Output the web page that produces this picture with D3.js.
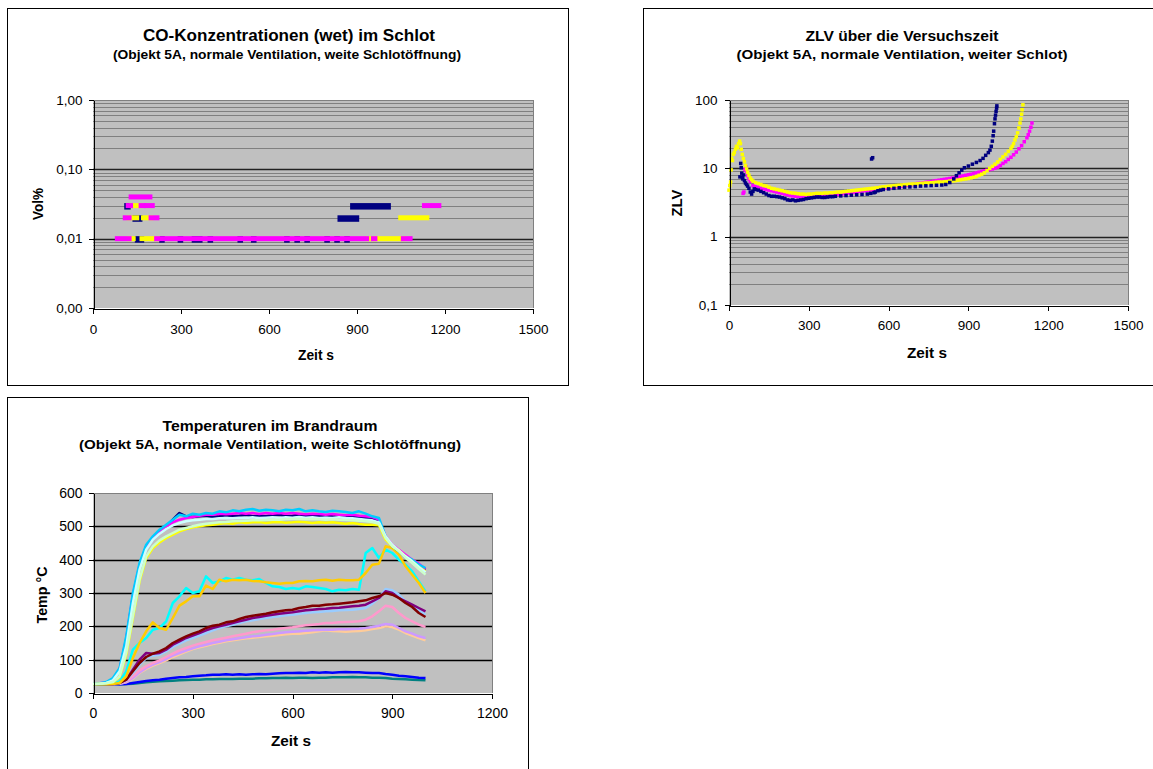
<!DOCTYPE html>
<html>
<head>
<meta charset="utf-8">
<script src="https://cdn.jsdelivr.net/npm/d3@7"></script>
<style>
  body { margin: 0; background: #fff; }
  svg text { font-family: "Liberation Sans", Arial, Helvetica, sans-serif; fill: #000; }
</style>
</head>
<body>
<svg id="c" width="1153" height="769"></svg>
<script>
// ---------------- CO concentration in the chimney ----------------
const coTimeTicks = [0, 300, 600, 900, 1200, 1500];
const coValueTicks = [0.001, 0.01, 0.1, 1];
const coValueLabels = ["0,00", "0,01", "0,10", "1,00"];
// runs of constant reading: [start s, end s, Vol%]
const coNavyRuns = [[115,120,0.03],[143,160,0.02],[151,166,0.01],[842,899,0.02],[885,1007,0.03],
  [234,236,0.01],[297,299,0.01],[345,365,0.01],[399,401,0.01],[501,503,0.01],[547,549,0.01],
  [660,662,0.01],[695,697,0.01],[729,731,0.01],[797,799,0.01],[831,833,0.01],[865,867,0.01]];
const coYellowRuns = [[132,160,0.03],[123,149,0.02],[172,197,0.02],[1049,1138,0.02],
  [124,137,0.01],[167,220,0.01],[937,956,0.01],[961,1058,0.01]];
const coMagentaRuns = [[130,194,0.04],[120,128,0.03],[164,172,0.03],[183,202,0.03],[1130,1179,0.03],
  [110,123,0.02],[198,218,0.02],[83,123,0.01],[217,933,0.01],[956,961,0.01],[1058,1081,0.01]];

// ---------------- ZLV over test time ----------------
const zlvTimeTicks = [0, 300, 600, 900, 1200, 1500];
const zlvValueTicks = [0.1, 1, 10, 100];
const zlvValueLabels = ["0,1", "1", "10", "100"];
const zlvYellow = [[0,4.8],[3,5.6],[6,6.3],[8,9.5],[10,14],[13,13],[16,16],[20,17],[24,19],[28,21],[32,20],[36,23],[40,25],[43,23],[46,19],[50,16],[54,14],[58,12.5],[62,11],[66,9.8],[70,8.8],[75,7.9],[80,7.2],[85,6.8],[90,6.5],[100,6.2],[110,6.0],[120,5.8],[130,5.6],[140,5.5],[150,5.3],[160,5.1],[170,5.0],[180,4.9],[190,4.8],[200,4.7],[210,4.6],[220,4.5],[230,4.4],[240,4.35],[250,4.3],[260,4.25],[270,4.2],[280,4.2],[290,4.15],[300,4.2],[310,4.2],[320,4.25],[330,4.3],[340,4.3],[350,4.3],[360,4.35],[370,4.35],[380,4.4],[390,4.4],[400,4.45],[410,4.5],[420,4.5],[430,4.55],[440,4.6],[450,4.65],[460,4.7],[470,4.75],[480,4.8],[490,4.85],[500,4.9],[510,4.95],[520,5.0],[530,5.05],[540,5.1],[550,5.15],[560,5.2],[570,5.3],[580,5.35],[590,5.4],[600,5.45],[610,5.5],[620,5.55],[630,5.6],[640,5.65],[650,5.7],[660,5.75],[670,5.8],[680,5.85],[690,5.9],[700,5.9],[710,5.95],[720,6.0],[730,6.05],[740,6.1],[750,6.1],[760,6.15],[770,6.2],[780,6.25],[790,6.3],[800,6.3],[810,6.35],[820,6.4],[830,6.5],[840,6.55],[850,6.6],[860,6.7],[870,6.8],[880,6.9],[890,7.0],[900,7.1],[910,7.25],[920,7.4],[930,7.6],[940,7.9],[950,8.2],[960,8.6],[970,9.2],[980,10],[990,10.7],[1000,11.5],[1010,12.4],[1020,13.5],[1030,14.7],[1040,16],[1050,17.7],[1060,19.5],[1065,21],[1070,23],[1075,26],[1080,29],[1085,33],[1090,39],[1094,46],[1097,53],[1100,62],[1102,72],[1105,85]];
const zlvMagenta = [[53,4.3],[56,4.5],[60,9.5],[63,10.5],[66,9],[70,7.8],[75,7],[80,6.4],[90,5.6],[100,5.4],[110,5.3],[120,5.1],[130,5.0],[140,4.9],[150,4.8],[160,4.7],[170,4.6],[180,4.5],[190,4.4],[200,4.3],[210,4.2],[220,4.1],[230,4.0],[240,3.95],[250,3.9],[260,3.85],[270,3.85],[280,3.8],[290,3.85],[300,3.9],[310,3.9],[320,3.95],[330,3.95],[340,4.0],[350,4.0],[360,4.0],[370,4.05],[380,4.1],[390,4.1],[400,4.15],[410,4.15],[420,4.2],[430,4.25],[440,4.3],[450,4.35],[460,4.4],[470,4.45],[480,4.5],[490,4.6],[500,4.65],[510,4.7],[520,4.75],[530,4.8],[540,4.85],[550,4.9],[560,5.0],[570,5.05],[580,5.1],[590,5.15],[600,5.2],[610,5.3],[620,5.35],[630,5.4],[640,5.45],[650,5.5],[660,5.6],[670,5.65],[680,5.7],[690,5.8],[700,5.9],[710,6.0],[720,6.05],[730,6.15],[740,6.25],[750,6.3],[760,6.4],[770,6.5],[780,6.6],[790,6.7],[800,6.8],[810,6.9],[820,7.0],[830,7.1],[840,7.2],[850,7.3],[860,7.45],[870,7.6],[880,7.75],[890,7.9],[900,8.05],[910,8.2],[920,8.4],[930,8.6],[940,8.8],[950,9.0],[960,9.2],[970,9.4],[980,9.6],[990,9.8],[1000,10],[1010,10.4],[1020,11],[1030,11.8],[1040,12.5],[1050,13.5],[1060,14.5],[1070,15.8],[1080,17.3],[1090,19.3],[1100,21.5],[1110,24.5],[1120,28],[1125,31],[1130,35],[1135,40],[1139,46]];
const zlvNavy = [[41,7.5],[44,11.8],[46,10.2],[48,8.5],[50,7.4],[52,7.0],[55,8.0],[58,6.6],[62,6.1],[66,5.8],[70,5.5],[75,5.1],[80,4.5],[85,4.2],[90,4.6],[95,5.0],[100,4.9],[110,4.8],[120,4.6],[130,4.4],[140,4.2],[150,4.0],[160,3.9],[170,3.9],[180,3.85],[190,3.8],[200,3.7],[210,3.6],[220,3.45],[230,3.4],[240,3.45],[250,3.35],[260,3.4],[270,3.45],[280,3.5],[290,3.6],[300,3.65],[310,3.7],[320,3.75],[330,3.8],[340,3.8],[350,3.75],[360,3.75],[370,3.8],[380,3.85],[390,3.85],[400,3.9],[420,3.95],[440,4.0],[460,4.05],[480,4.1],[500,4.15],[520,4.2],[533,4.3],[536,13.7],[540,14.3],[545,4.4],[550,4.5],[560,4.7],[570,4.8],[580,4.9],[600,5.0],[620,5.1],[640,5.2],[660,5.3],[680,5.35],[700,5.4],[720,5.5],[740,5.55],[760,5.6],[780,5.65],[800,5.7],[815,5.8],[830,6.2],[845,7.0],[855,7.8],[865,8.6],[875,9.4],[885,10.2],[900,10.8],[915,11.5],[930,12.2],[944,13],[955,14],[965,15.5],[975,17],[981,18.5],[986,21],[990,25],[993,30],[995,35],[998,45],[1000,53],[1002,60],[1004,68],[1006,76],[1007,82]];

// ---------------- Temperatures in the fire room ----------------
const tempTimeTicks = [0, 300, 600, 900, 1200];
const tempValueTicks = [0, 100, 200, 300, 400, 500, 600];
const tempTime = [0,20,40,60,80,100,120,140,160,180,200,220,240,260,280,300,320,340,360,380,400,420,440,460,480,500,520,540,560,580,600,620,640,660,680,700,720,740,760,780,800,820,840,860,880,900,920,940,960,980,1000];
const tSky = [28,29,33,45,75,170,300,390,445,470,490,505,520,535,530,538,535,540,538,545,542,548,545,550,552,547,550,548,545,550,548,552,545,548,545,543,547,545,543,540,545,538,530,525,470,440,425,410,400,385,375];
const tNavy = [27,28,30,40,70,160,290,380,440,465,485,500,520,540,530,528,530,532,528,530,533,530,532,535,530,532,530,533,535,530,532,535,530,532,530,533,530,528,530,527,528,525,522,515,465,440,425,405,395,380,370];
const tMagenta = [28,29,32,42,72,165,295,385,440,465,485,500,512,520,525,528,532,535,535,538,536,538,540,538,540,537,540,538,540,538,540,538,536,538,537,535,537,535,533,535,532,530,528,520,470,445,430,415,400,388,372];
const tPale = [27,28,30,38,65,140,270,370,430,460,478,492,503,510,515,518,520,522,522,524,525,524,526,525,527,525,526,527,525,527,526,528,526,527,525,526,525,527,525,524,522,520,518,512,470,445,428,410,395,378,362];
const tLightGreen = [27,28,29,33,50,120,230,340,410,440,458,470,480,490,495,500,505,508,510,512,513,515,516,517,518,518,519,520,520,521,522,522,521,522,521,520,521,520,519,518,517,515,513,508,465,440,425,405,390,372,355];
const tYellow = [27,28,29,32,48,115,225,335,405,435,452,465,475,485,492,497,500,503,505,508,510,508,512,510,512,513,510,512,513,511,512,514,512,510,512,511,512,510,508,510,507,505,505,503,460,440,428,410,395,378,365];
const tCyan = [26,26,27,28,35,65,130,150,165,190,195,215,270,290,315,300,305,350,330,335,345,340,345,340,338,342,330,320,318,312,315,312,320,318,315,312,305,310,308,312,310,420,435,405,430,420,400,385,365,335,305];
const tOrange = [26,26,26,27,30,50,105,150,185,212,195,190,225,262,275,290,290,322,312,340,335,340,338,340,336,335,332,330,328,330,330,335,336,335,338,340,337,340,338,338,340,360,385,388,440,435,415,380,355,330,300];
const tMaroon = [26,26,26,27,30,40,65,90,108,118,125,135,150,160,170,178,185,195,202,205,212,215,222,228,232,235,238,242,245,248,250,255,258,262,262,265,266,268,270,272,275,278,285,290,300,295,285,270,258,240,228];
const tPurple = [26,26,26,27,30,40,70,100,120,118,120,130,145,155,165,172,180,188,195,200,205,210,215,220,225,228,232,235,238,240,242,245,248,250,252,253,255,256,258,260,262,265,275,285,305,300,285,275,265,255,245];
const tLightBlue = [26,26,26,27,30,38,60,85,105,112,115,125,138,148,158,165,172,180,188,195,200,205,210,215,218,222,225,228,230,233,235,238,240,242,243,245,246,248,249,250,252,255,268,285,312,308,295,275,260,248,235];
const tPink = [26,26,26,27,29,35,50,68,80,90,98,108,118,128,135,142,148,153,158,162,166,170,174,178,182,185,188,190,193,195,197,200,203,205,207,210,210,212,213,214,215,220,230,245,262,258,240,225,215,205,198];
const tLavender = [26,26,26,27,28,33,45,62,75,85,93,102,112,120,127,134,140,145,150,154,158,161,164,167,170,172,175,177,180,182,184,185,187,188,189,190,190,191,191,192,193,195,198,202,207,205,195,185,178,170,165];
const tPeach = [26,26,26,27,28,32,43,60,72,82,90,98,108,116,124,132,137,142,147,151,155,158,161,164,166,168,170,172,174,176,178,178,180,182,185,188,186,185,184,185,186,188,192,195,200,198,190,180,172,165,158];
const tBlue = [26,26,26,26,26,27,30,33,36,38,40,43,45,47,48,50,52,53,55,55,56,55,56,55,56,57,56,58,59,60,60,61,60,62,61,62,61,62,63,62,62,61,60,60,57,55,52,50,48,46,45];
const tTeal = [26,26,26,26,26,27,28,30,32,34,35,36,37,38,39,40,40,41,41,42,42,42,43,43,43,44,44,45,45,46,45,46,46,45,46,46,47,47,47,48,47,47,46,46,45,43,42,41,40,39,38];

const svg = d3.select("#c");

function frame(x0, y0, x1, y1) {
  svg.append("rect")
    .attr("x", x0 + 0.5).attr("y", y0 + 0.5)
    .attr("width", x1 - x0).attr("height", y1 - y0)
    .attr("fill", "#fff").attr("stroke", "#000").attr("stroke-width", 1);
}

function label(txt, x, y, size, len, opts = {}) {
  const t = svg.append("text")
    .attr("text-anchor", "middle")
    .attr("font-size", size)
    .attr("font-weight", opts.bold === false ? "normal" : "bold")
    .text(txt);
  if (len) t.attr("textLength", len).attr("lengthAdjust", "spacingAndGlyphs");
  if (opts.rotate) t.attr("transform", `translate(${x},${y}) rotate(-90)`);
  else t.attr("x", x).attr("y", y);
  return t;
}

function plotArea(x0, x1, y0, y1) {
  const g = svg.append("g");
  g.append("rect").attr("x", x0).attr("y", y0)
    .attr("width", x1 - x0).attr("height", y1 - y0).attr("fill", "#c0c0c0");
  return g;
}

function hLines(g, vals, y, x0, x1, color, width) {
  g.selectAll(null).data(vals).join("line")
    .attr("x1", x0).attr("x2", x1)
    .attr("y1", d => Math.round(y(d)) + 0.5).attr("y2", d => Math.round(y(d)) + 0.5)
    .attr("stroke", color).attr("stroke-width", width);
}

function borders(g, x0, x1, y0, y1) {
  g.append("line").attr("x1", x0).attr("x2", x1 + 0.5).attr("y1", y0 + 0.5).attr("y2", y0 + 0.5).attr("stroke", "#808080");
  g.append("line").attr("x1", x1 + 0.5).attr("x2", x1 + 0.5).attr("y1", y0).attr("y2", y1).attr("stroke", "#808080");
}

function axes(x, y, x0, y1, xTicks, yTicks, yFmt, fs, xPad, yPad) {
  const ax = svg.append("g").attr("transform", `translate(0,${y1 + 0.5})`)
    .call(d3.axisBottom(x).tickValues(xTicks).tickFormat(d => String(d))
      .tickSize(5).tickSizeOuter(0).tickPadding(xPad));
  const ay = svg.append("g").attr("transform", `translate(${x0 + 0.5},0)`)
    .call(d3.axisLeft(y).tickValues(yTicks).tickFormat(yFmt)
      .tickSize(5).tickSizeOuter(0).tickPadding(yPad));
  [ax, ay].forEach(a => {
    a.selectAll("path,line").attr("stroke", "#000").attr("shape-rendering", "crispEdges");
    a.selectAll("text").attr("font-size", fs)
      .attr("font-family", '"Liberation Sans", Arial, sans-serif').attr("fill", "#000");
  });
}

function logMinor(yMin, yMax) {
  const out = [];
  for (let e = Math.round(Math.log10(yMin)); e < Math.round(Math.log10(yMax)); e++)
    for (let k = 2; k <= 9; k++) out.push(k * Math.pow(10, e));
  return out;
}

// ======== chart 1: CO ========
{
  frame(7, 8, 568, 385);
  const X0 = 93, X1 = 533, Y0 = 100, Y1 = 308;
  const x = d3.scaleLinear().domain([0, 1500]).range([X0, X1]);
  const y = d3.scaleLog().domain([0.001, 1]).range([Y1, Y0]);
  const g = plotArea(X0, X1, Y0, Y1);
  hLines(g, logMinor(0.001, 1), y, X0, X1, "#808080", 1);
  hLines(g, [0.01, 0.1], y, X0, X1, "#222", 1.4);
  borders(g, X0, X1, Y0, Y1);

  // marker bars: top offset and height per series
  const drawRuns = (runs, color, top, h) => {
    g.selectAll(null).data(runs).join("rect")
      .attr("x", d => x(d[0]) - 2.5)
      .attr("width", d => x(d[1]) - x(d[0]) + 5)
      .attr("y", d => y(d[2]) - top)
      .attr("height", h)
      .attr("fill", color);
  };
  drawRuns(coNavyRuns, "#000080", 2.5, 6.5);
  drawRuns(coYellowRuns, "#ffff00", 2.5, 5);
  drawRuns(coMagentaRuns, "#ff00ff", 2.5, 5);

  axes(x, y, X0, Y1, coTimeTicks, coValueTicks, d => coValueLabels[coValueTicks.indexOf(d)], 13.5, 11, 6);

  label("CO-Konzentrationen (wet) im Schlot", 289, 41, 16, 292);
  label("(Objekt 5A, normale Ventilation, weite Schlotöffnung)", 287, 59, 12.5, 348);
  label("Zeit s", 316, 360, 14, 36);
  label("Vol%", 43, 204, 14, 32, { rotate: true });
}

// ======== chart 2: ZLV ========
{
  frame(643, 8, 1170, 385);
  const X0 = 729, X1 = 1128, Y0 = 100, Y1 = 305;
  const x = d3.scaleLinear().domain([0, 1500]).range([X0, X1]);
  const y = d3.scaleLog().domain([0.1, 100]).range([Y1, Y0]);
  const g = plotArea(X0, X1, Y0, Y1);
  hLines(g, logMinor(0.1, 100), y, X0, X1, "#808080", 1);
  hLines(g, [1, 10], y, X0, X1, "#222", 1.4);
  borders(g, X0, X1, Y0, Y1);

  const drawDots = (pts, color) => {
    g.selectAll(null).data(pts).join("rect")
      .attr("x", d => x(d[0]) - 1.75).attr("y", d => y(d[1]) - 1.75)
      .attr("width", 3.5).attr("height", 3.5).attr("fill", color);
  };
  drawDots(zlvMagenta, "#ff00ff");
  drawDots(zlvYellow, "#ffff00");
  drawDots(zlvNavy, "#000080");

  axes(x, y, X0, Y1, zlvTimeTicks, zlvValueTicks, d => zlvValueLabels[zlvValueTicks.indexOf(d)], 13.5, 10, 7);

  label("ZLV über die Versuchszeit", 902, 41, 15, 193);
  label("(Objekt 5A, normale Ventilation, weiter Schlot)", 902, 59, 13, 331);
  label("Zeit s", 927, 358, 15, 40);
  label("ZLV", 682, 203, 15, 27, { rotate: true });
}

// ======== chart 3: temperatures ========
{
  frame(7, 397, 528, 790);
  const X0 = 93, X1 = 492, Y0 = 493, Y1 = 693;
  const x = d3.scaleLinear().domain([0, 1200]).range([X0, X1]);
  const y = d3.scaleLinear().domain([0, 600]).range([Y1, Y0]);
  const g = plotArea(X0, X1, Y0, Y1);
  hLines(g, [100, 200, 300, 400, 500], y, X0, X1, "#000", 1.5);
  borders(g, X0, X1, Y0, Y1);

  const series = [
    [tTeal, "#008080"], [tBlue, "#0000ff"],
    [tPeach, "#ffcc99"], [tLavender, "#cc99ff"], [tPink, "#ff99cc"],
    [tLightBlue, "#99ccff"], [tPurple, "#800080"], [tMaroon, "#800000"],
    [tCyan, "#00ffff"], [tOrange, "#ffcc00"],
    [tNavy, "#000080"], [tMagenta, "#ff00ff"], [tSky, "#00ccff"],
    [tYellow, "#ffff00"], [tPale, "#ccffff"], [tLightGreen, "#ccffcc"]
  ];
  const line = d3.line().x((d, i) => x(tempTime[i])).y(d => y(d));
  g.selectAll(null).data(series).join("path")
    .attr("d", d => line(d[0]))
    .attr("fill", "none")
    .attr("stroke", d => d[1])
    .attr("stroke-width", 2.5)
    .attr("stroke-linejoin", "round");

  axes(x, y, X0, Y1, tempTimeTicks, tempValueTicks, d => String(d), 14, 10, 6);

  label("Temperaturen im Brandraum", 270, 431, 15.5, 215);
  label("(Objekt 5A, normale Ventilation, weite Schlotöffnung)", 270, 449, 13, 382);
  label("Zeit s", 291, 746, 15, 40);
  label("Temp °C", 47, 595, 14.5, 57, { rotate: true });
}
</script>
</body>
</html>
